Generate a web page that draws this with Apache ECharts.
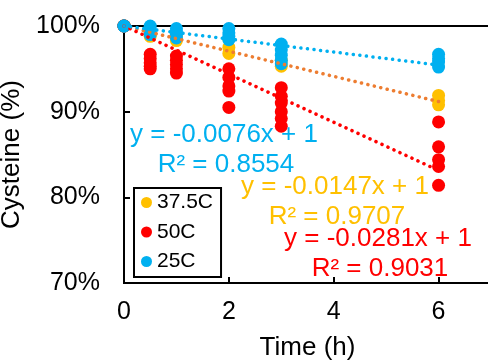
<!DOCTYPE html>
<html>
<head>
<meta charset="utf-8">
<script src="https://cdn.jsdelivr.net/npm/echarts@6/dist/echarts.min.js"></script>
<style>html,body{margin:0;padding:0;background:#fff;}#c{width:488px;height:363px;}</style>
</head>
<body>
<div id="c"></div>
<script>
// ---- data ----
const times = [0, 0.5, 1, 2, 3, 6];
// replicate values per time point (fraction of initial cysteine)
const c25 = [
  [1.0, 1.0, 1.0],
  [1.0, 0.996, 0.992, 0.99],
  [0.997, 0.993, 0.99, 0.986],
  [0.997, 0.992, 0.988, 0.984],
  [0.979, 0.972, 0.966, 0.96, 0.956],
  [0.967, 0.962, 0.958, 0.952]
];
const c375 = [
  [1.0, 1.0, 1.0],
  [0.992, 0.988],
  [0.99, 0.983],
  [0.985, 0.975, 0.968],
  [0.96, 0.953],
  [0.919, 0.913, 0.908]
];
const c50 = [
  [1.0, 1.0, 1.0],
  [0.967, 0.962, 0.957, 0.953, 0.95],
  [0.965, 0.96, 0.955, 0.95, 0.945],
  [0.95, 0.94, 0.93, 0.924, 0.905],
  [0.928, 0.918, 0.91, 0.9, 0.892, 0.883],
  [0.888, 0.859, 0.844, 0.836, 0.814]
];
const trendX = [0, 6];
const trend25 = [1, 0.9544];
const trend375 = [1, 0.9118];
const trend50 = [1, 0.8314];
const seriesNames = ['37.5C', '50C', '25C'];
const eq25 = ['y = -0.0076x + 1', 'R² = 0.8554'];
const eq375 = ['y = -0.0147x + 1', 'R² = 0.9707'];
const eq50 = ['y = -0.0281x + 1', 'R² = 0.9031'];
const yTicks = [0.7, 0.8, 0.9, 1.0];
const xTicks = [0, 2, 4, 6];

// ---- build ----
function flat(vals) {
  const out = [];
  vals.forEach((arr, i) => arr.forEach(v => out.push([times[i], v])));
  return out;
}
function line(ys) { return trendX.map((x, i) => [x, ys[i]]); }

const FONT = "'Liberation Sans', Arial, sans-serif";
const C_BLUE = '#00B0F0', C_YEL = '#FFC000', C_RED = '#FF0000', C_ORTR = '#ED7D31';

const chart = echarts.init(document.getElementById('c'));
const dotted = (color) => ({ color: color, width: 3.5, type: [0.1, 6.5], cap: 'round' });

function eqText(lines, color, cx, cy1, cx2, cy2) {
  return [
    { type: 'text', x: cx, y: cy1, silent: true, z: 100,
      style: { text: lines[0], fill: color, font: '26px ' + FONT, align: 'center', verticalAlign: 'middle', textAlign: 'center', textVerticalAlign: 'middle' } },
    { type: 'text', x: cx2, y: cy2, silent: true, z: 100,
      style: { text: lines[1], fill: color, font: '26px ' + FONT, align: 'center', verticalAlign: 'middle', textAlign: 'center', textVerticalAlign: 'middle' } }
  ];
}

chart.setOption({
  animation: false,
  backgroundColor: '#fff',
  grid: { left: 124, top: 26, right: -3, bottom: 80, show: true, borderColor: '#000', borderWidth: 2, backgroundColor: 'transparent', outerBoundsMode: 'none', containLabel: false },
  xAxis: {
    type: 'value', min: 0, max: 7, interval: 2,
    name: 'Time (h)', nameLocation: 'middle', nameGap: 52,
    nameTextStyle: { fontFamily: FONT, fontSize: 26, color: '#000' },
    axisLine: { show: true, lineStyle: { color: '#000', width: 2 } },
    axisTick: { show: true, inside: true, length: 6, lineStyle: { color: '#000', width: 2 } },
    axisLabel: { fontFamily: FONT, fontSize: 25, color: '#000', margin: 17, showMaxLabel: false,
      formatter: v => xTicks.includes(v) ? String(v) : '' },
    splitLine: { show: false }
  },
  yAxis: {
    type: 'value', min: yTicks[0], max: yTicks[yTicks.length - 1], interval: 0.1,
    name: 'Cysteine (%)', nameLocation: 'middle', nameGap: 82,
    nameTextStyle: { fontFamily: FONT, fontSize: 26, color: '#000' },
    axisLine: { show: true, lineStyle: { color: '#000', width: 2 } },
    axisTick: { show: true, inside: true, length: 6, lineStyle: { color: '#000', width: 2 } },
    axisLabel: { fontFamily: FONT, fontSize: 25, color: '#000', margin: 24,
      formatter: v => Math.round(v * 100) + '%' },
    splitLine: { show: false }
  },
  legend: {
    data: seriesNames,
    orient: 'vertical', left: 134, top: 188,
    padding: [4, 8, 5, 7], itemGap: 8.5,
    itemWidth: 11, itemHeight: 11, icon: 'circle',
    borderColor: '#000', borderWidth: 2, backgroundColor: '#fff',
    textStyle: { fontFamily: FONT, fontSize: 21, color: '#000', lineHeight: 21 }
  },
  series: [
    { name: seriesNames[0], type: 'scatter', data: flat(c375), symbolSize: 13, itemStyle: { color: C_YEL, opacity: 1 } },
    { name: seriesNames[1], type: 'scatter', data: flat(c50), symbolSize: 13, itemStyle: { color: C_RED, opacity: 1 } },
    { name: seriesNames[2], type: 'scatter', data: flat(c25), symbolSize: 13, itemStyle: { color: C_BLUE, opacity: 1 } },
    { name: 't375', type: 'line', data: line(trend375), showSymbol: false, silent: true, lineStyle: dotted(C_ORTR), z: 3 },
    { name: 't50', type: 'line', data: line(trend50), showSymbol: false, silent: true, lineStyle: dotted(C_RED), z: 3 },
    { name: 't25', type: 'line', data: line(trend25), showSymbol: false, silent: true, lineStyle: dotted(C_BLUE), z: 3 }
  ],
  graphic: [].concat(
    eqText(eq25, C_BLUE, 224, 135, 226, 165),
    eqText(eq375, C_YEL, 335, 187, 337, 217),
    eqText(eq50, C_RED, 378, 239, 380, 269)
  )
});
</script>
</body>
</html>
